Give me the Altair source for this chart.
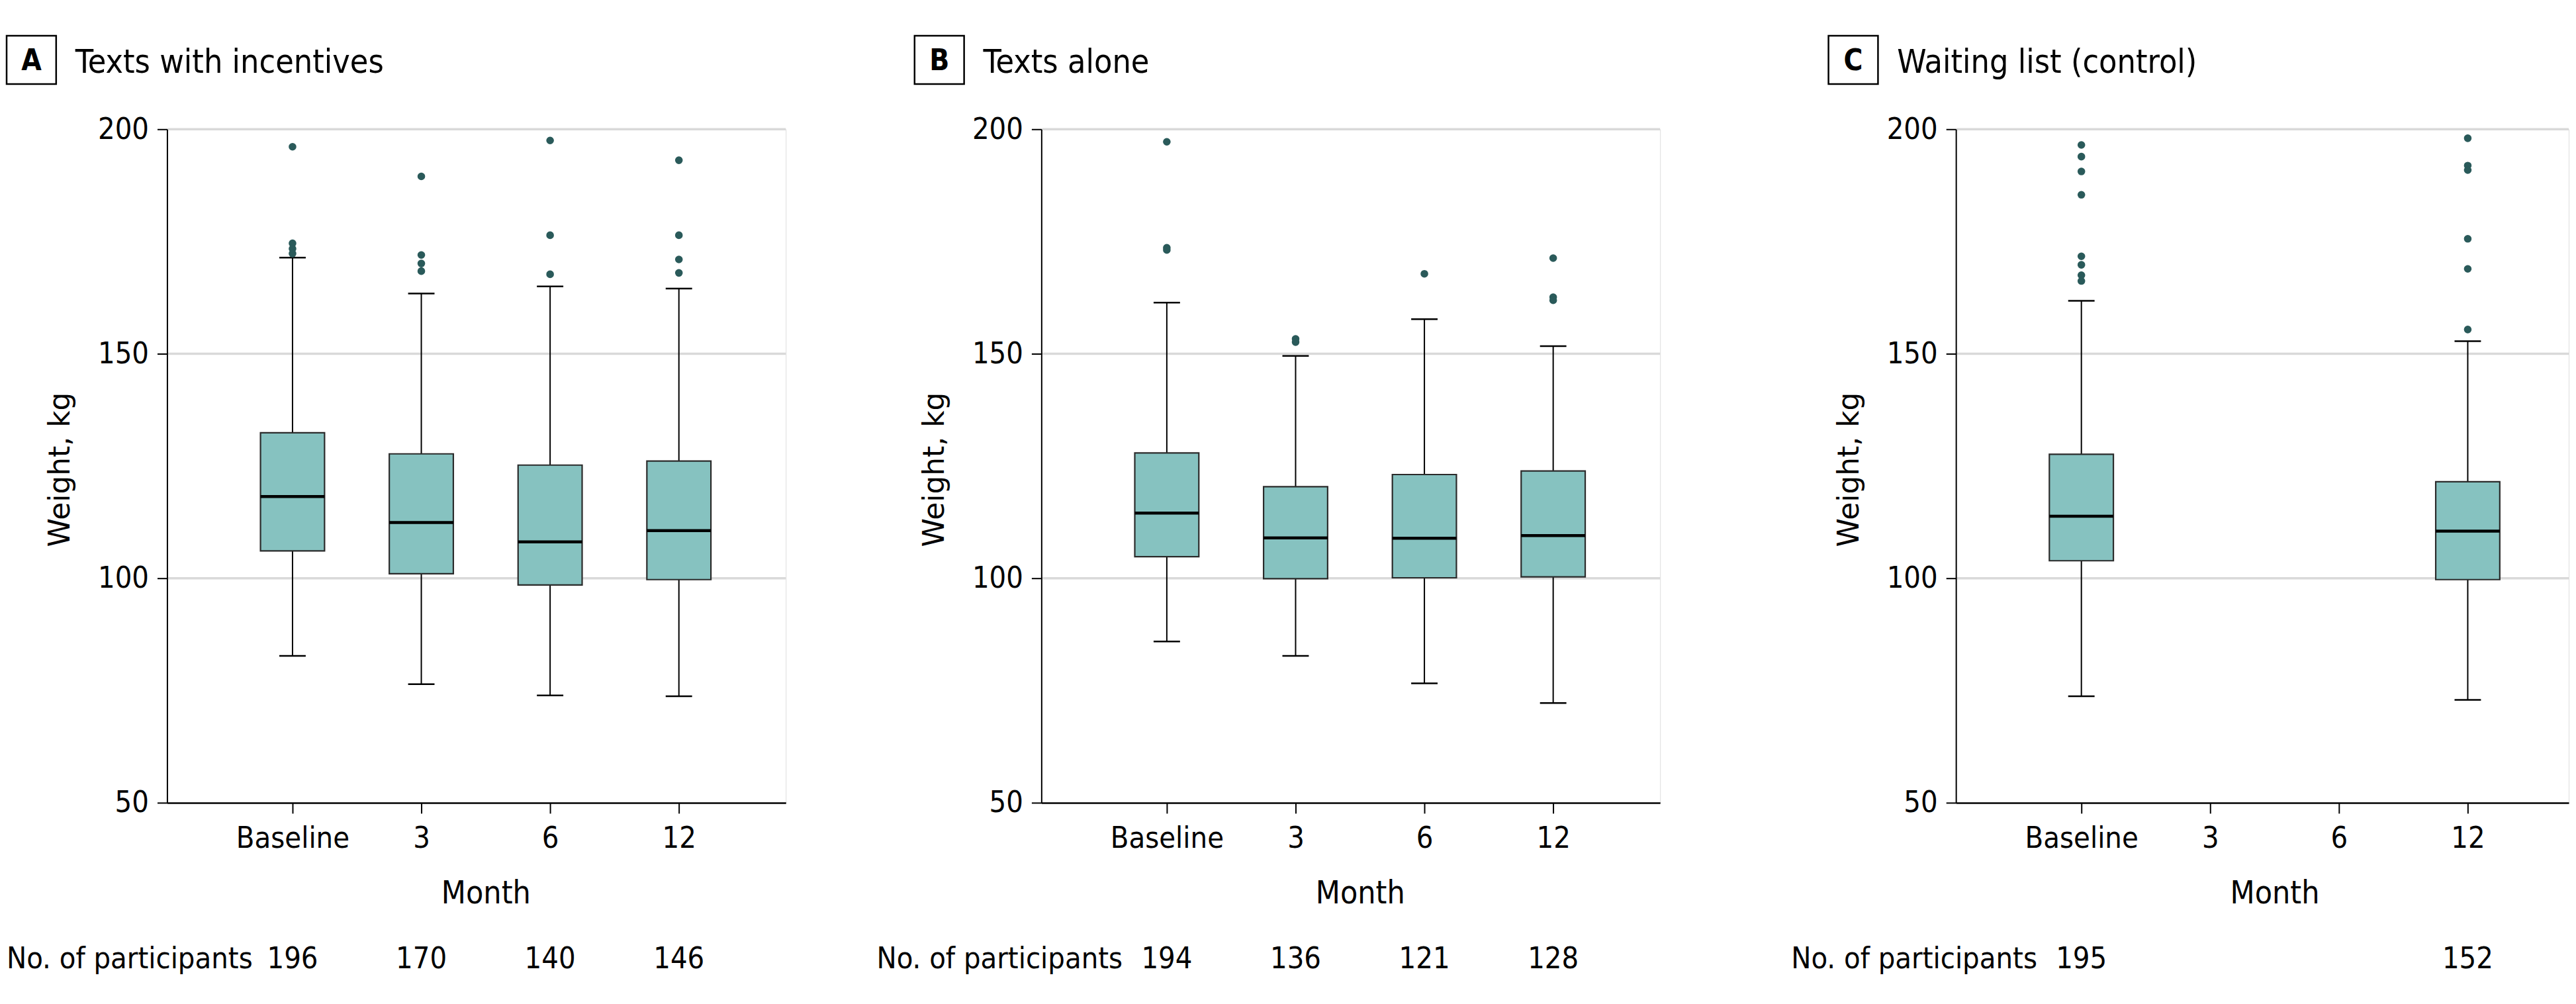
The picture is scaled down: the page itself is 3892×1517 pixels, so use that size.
import altair as alt
import pandas as pd

# ---------------- data ----------------
months = ["Baseline", "3", "6", "12"]

a_low = [82.7, 76.4, 73.9, 73.7]
a_q1 = [106.1, 101.0, 98.5, 99.7]
a_med = [118.2, 112.4, 108.1, 110.6]
a_q3 = [132.4, 127.7, 125.2, 126.1]
a_high = [171.4, 163.4, 165.0, 164.5]
a_out = [[196.1, 174.6, 173.4, 172.3], [189.5, 172.0, 170.1, 168.4],
         [197.5, 176.4, 167.7], [193.1, 176.4, 171.0, 168.0]]
a_n = [196, 170, 140, 146]

b_low = [85.9, 82.7, 76.6, 72.2]
b_q1 = [104.8, 99.9, 100.1, 100.3]
b_med = [114.5, 109.0, 108.9, 109.5]
b_q3 = [127.9, 120.4, 123.1, 123.9]
b_high = [161.4, 149.5, 157.7, 151.7]
b_out = [[197.2, 173.6, 173.1], [153.3, 152.6], [167.8], [171.3, 162.6, 161.9]]
b_n = [194, 136, 121, 128]

c_low = [73.7, None, None, 72.9]
c_q1 = [103.9, None, None, 99.7]
c_med = [113.8, None, None, 110.5]
c_q3 = [127.6, None, None, 121.5]
c_high = [161.8, None, None, 152.8]
c_out = [[196.5, 193.9, 190.6, 185.4, 171.7, 169.8, 167.5, 166.2], [], [],
         [198.0, 191.9, 190.9, 175.6, 168.9, 155.4]]
c_n = [195, None, None, 152]

y_ticks = [50, 100, 150, 200]
grid_values = [100, 150, 200]

# ---------------- style ----------------
FONT = "DejaVu Sans Condensed, Liberation Sans Narrow, Roboto Condensed, sans-serif"
BOX_FILL = "#86c2c0"
BOX_STROKE = "#2b2b2b"
DOT = "#2a5a5a"
GRID = "#d9d9d9"
H = 1020
STEP = 195.04
X0 = -0.974

label_expr = "[" + ",".join("'%s'" % m for m in months) + "][datum.value]"


def panel(letter, title, low, q1, med, q3, high, outs, ns,
          width, title_x, left_guard, right_guard):
    xmax = X0 + width / STEP
    xscale = alt.Scale(domain=[X0, xmax], nice=False, zero=False)
    yscale = alt.Scale(domain=[50, 200], nice=False, zero=False)
    xaxis = alt.Axis(values=[0, 1, 2, 3], labelExpr=label_expr, title="Month",
                     titleX=482.5, titleY=152, titleAlign="center",
                     titleBaseline="alphabetic", titleFont=FONT, titleFontSize=48,
                     titleFontWeight="normal", titleColor="black",
                     labelFont=FONT, labelFontSize=45, labelColor="black",
                     labelPadding=16, labelFlush=False, labelOverlap=False,
                     tickSize=16, tickWidth=2, tickColor="black",
                     domainColor="black", domainWidth=2.5, grid=False, zindex=1)
    yaxis = alt.Axis(values=y_ticks, title="Weight, kg", titleFont="DejaVu Sans",
                     titleFontSize=44, titleFontWeight="normal", titleColor="black",
                     titleAngle=270, titleX=-139, titleY=515, titleAlign="center",
                     titleBaseline="bottom",
                     labelFont=FONT, labelFontSize=45, labelColor="black",
                     labelPadding=13, labelFlush=False, labelOverlap=False,
                     tickSize=15, tickWidth=2, tickColor="black",
                     domainColor="black", domainWidth=2, grid=False, zindex=1)

    X = alt.X("pos:Q", scale=xscale, axis=xaxis)

    rows = []
    for i in range(len(months)):
        if low[i] is None:
            continue
        rows.append(dict(pos=i, month=months[i], low=low[i], q1=q1[i],
                         med=med[i], q3=q3[i], high=high[i]))
    box_df = pd.DataFrame(rows)

    out_rows = [dict(pos=i, val=v) for i, vals in enumerate(outs) for v in vals]
    out_df = pd.DataFrame(out_rows)

    n_df = pd.DataFrame([dict(pos=i, n=str(n)) for i, n in enumerate(ns) if n is not None])

    grid_df = pd.DataFrame({"v": grid_values})
    one = pd.DataFrame({"t": ["No. of participants"]})

    base = alt.Chart(box_df)

    grid = alt.Chart(grid_df).mark_rule(color=GRID, strokeWidth=3.5).encode(
        y=alt.Y("v:Q", scale=yscale, axis=yaxis),
        x=alt.value(1), x2=alt.value(width))

    w_lo = base.mark_rule(color="black", strokeWidth=2).encode(
        x=X, y=alt.Y("low:Q", scale=yscale, axis=yaxis), y2="q1:Q")
    w_hi = base.mark_rule(color="black", strokeWidth=2).encode(
        x=X, y=alt.Y("q3:Q", scale=yscale, axis=yaxis), y2="high:Q")
    cap_lo = base.mark_rule(color="black", strokeWidth=2.5, xOffset=-20, x2Offset=20).encode(
        x=X, x2="pos:Q", y=alt.Y("low:Q", scale=yscale, axis=yaxis))
    cap_hi = base.mark_rule(color="black", strokeWidth=2.5, xOffset=-20, x2Offset=20).encode(
        x=X, x2="pos:Q", y=alt.Y("high:Q", scale=yscale, axis=yaxis))
    box = base.mark_rect(fill=BOX_FILL, stroke=BOX_STROKE, strokeWidth=2.2,
                         xOffset=-48.5, x2Offset=48.5).encode(
        x=X, x2="pos:Q", y=alt.Y("q1:Q", scale=yscale, axis=yaxis), y2="q3:Q")
    median = base.mark_rule(color="black", strokeWidth=4.5,
                            xOffset=-48.5, x2Offset=48.5).encode(
        x=X, x2="pos:Q", y=alt.Y("med:Q", scale=yscale, axis=yaxis))
    dots = alt.Chart(out_df).mark_circle(size=135, color=DOT, opacity=1).encode(
        x=X, y=alt.Y("val:Q", scale=yscale, axis=yaxis))

    n_text = alt.Chart(n_df).mark_text(font=FONT, fontSize=45, color="black",
                                       baseline="alphabetic", align="center").encode(
        x=X, y=alt.value(1270.5), text="n:N")
    n_label = alt.Chart(one).mark_text(font=FONT, fontSize=45, color="black",
                                       baseline="alphabetic", align="left").encode(
        x=alt.value(left_guard + 1), y=alt.value(1270.5), text="t:N")

    tb = pd.DataFrame({"t": [letter], "s": [title]})
    t_box = alt.Chart(tb).mark_rect(fillOpacity=0, stroke="black", strokeWidth=2.5).encode(
        x=alt.value(title_x), x2=alt.value(title_x + 75),
        y=alt.value(-141.5), y2=alt.value(-68.5))
    t_letter = alt.Chart(tb).mark_text(font=FONT, fontSize=44, fontWeight="bold",
                                       color="black", baseline="alphabetic",
                                       align="center").encode(
        x=alt.value(title_x + 37.5), y=alt.value(-89.5), text="t:N")
    t_text = alt.Chart(tb).mark_text(font=FONT, fontSize=50, color="black",
                                     baseline="alphabetic", align="left").encode(
        x=alt.value(title_x + 104), y=alt.value(-85.5), text="s:N")

    layers = [grid, w_lo, w_hi, cap_lo, cap_hi, box, median, dots,
              n_text, n_label, t_box, t_letter, t_text]

    g_left = alt.Chart(one).mark_rule(color="white", strokeWidth=1).encode(
        x=alt.value(left_guard), y=alt.value(0), y2=alt.value(1))
    layers.append(g_left)
    if right_guard is not None:
        g_right = alt.Chart(one).mark_rule(color="white", strokeWidth=1).encode(
            x=alt.value(right_guard), y=alt.value(0), y2=alt.value(1))
        layers.append(g_right)

    return alt.layer(*layers).properties(width=width, height=H)


pA = panel("A", "Texts with incentives", a_low, a_q1, a_med, a_q3, a_high, a_out, a_n,
           937, -243, -244, 937 + 133.5)
pB = panel("B", "Texts alone", b_low, b_q1, b_med, b_q3, b_high, b_out, b_n,
           937, -192, -250.5, 937 + 194.5)
pC = panel("C", "Waiting list (control)", c_low, c_q1, c_med, c_q3, c_high, c_out, c_n,
           928, -193, -250.5, None)

chart = alt.hconcat(pA, pB, pC, spacing=0).properties(
    padding={"left": 0, "top": 42, "right": 0, "bottom": 0}
).configure_view(stroke=None).configure(background="white")

chart.save("out.html", embed_options={"renderer": "svg", "actions": False})
